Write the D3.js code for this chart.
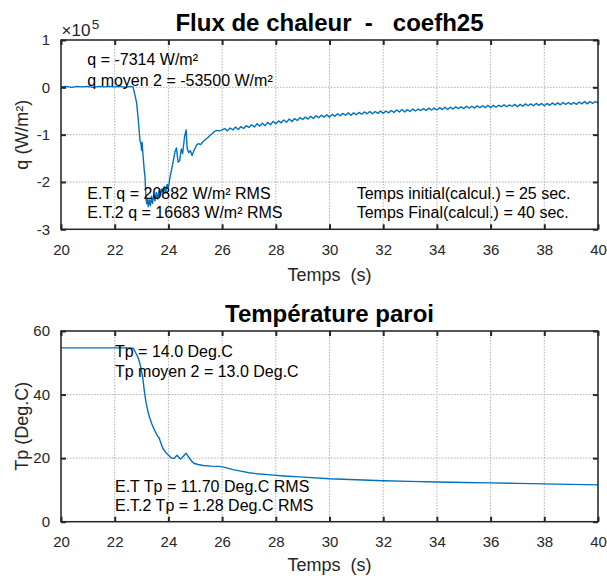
<!DOCTYPE html>
<html>
<head>
<meta charset="utf-8">
<script src="https://cdn.jsdelivr.net/npm/d3@7"></script>
<style>
  html, body { margin: 0; padding: 0; background: #fff; }
  svg { display: block; }
  text { font-family: "Liberation Sans", Arial, Helvetica, sans-serif; }
</style>
</head>
<body>
<svg id="chart" width="607" height="576"></svg>
<script>
// ---------------- DATA ----------------
const xTicks = [20, 22, 24, 26, 28, 30, 32, 34, 36, 38, 40];
const qTicks = [1, 0, -1, -2, -3];          // in units of 1e5 W/m²
const tpTicks = [0, 20, 40, 60];

// Heat flux q (x 1e5 W/m²) vs time (s)
const qTime = [
  20.0, 20.2, 20.4, 20.6, 20.8, 21.0, 21.2, 21.4, 21.6, 21.8, 22.0, 22.2, 22.4, 22.6, 22.68,
  22.75, 22.82, 22.88, 22.94, 22.98, 23.0, 23.02, 23.05, 23.1, 23.13, 23.16, 23.19, 23.22, 23.25, 23.29,
  23.33, 23.37, 23.41, 23.45, 23.5, 23.55, 23.6, 23.65, 23.7, 23.75, 23.8, 23.85, 23.9, 23.95, 24.0,
  24.06, 24.15, 24.25, 24.30, 24.36, 24.42, 24.48, 24.53, 24.60, 24.66, 24.70, 24.76, 24.82, 24.88, 24.95,
  25.05, 25.12, 25.2, 25.3, 25.43, 25.55, 25.65, 25.72, 25.8, 25.9,
  26.0, 26.1, 26.2, 26.3, 26.4, 26.5, 26.6, 26.7, 26.8, 26.9,
  27.0, 27.1, 27.2, 27.3, 27.4, 27.5, 27.6, 27.7, 27.8, 27.9,
  28.0, 28.1, 28.2, 28.3, 28.4, 28.5, 28.6, 28.7, 28.8, 28.9,
  29.0, 29.1, 29.2, 29.3, 29.4, 29.5, 29.6, 29.7, 29.8, 29.9,
  30.0, 30.1, 30.2, 30.3, 30.4, 30.5, 30.6, 30.7, 30.8, 30.9,
  31.0, 31.1, 31.2, 31.3, 31.4, 31.5, 31.6, 31.7, 31.8, 31.9,
  32.0, 32.1, 32.2, 32.3, 32.4, 32.5, 32.6, 32.7, 32.8, 32.9,
  33.0, 33.1, 33.2, 33.3, 33.4, 33.5, 33.6, 33.7, 33.8, 33.9,
  34.0, 34.1, 34.2, 34.3, 34.4, 34.5, 34.6, 34.7, 34.8, 34.9,
  35.0, 35.1, 35.2, 35.3, 35.4, 35.5, 35.6, 35.7, 35.8, 35.9,
  36.0, 36.1, 36.2, 36.3, 36.4, 36.5, 36.6, 36.7, 36.8, 36.9,
  37.0, 37.1, 37.2, 37.3, 37.4, 37.5, 37.6, 37.7, 37.8, 37.9,
  38.0, 38.1, 38.2, 38.3, 38.4, 38.5, 38.6, 38.7, 38.8, 38.9,
  39.0, 39.1, 39.2, 39.3, 39.4, 39.5, 39.6, 39.7, 39.8, 39.9,
  40.0
];
const qValue = [
  0.01, 0.02, 0.00, 0.02, 0.01, 0.02, 0.00, 0.02, 0.01, 0.02, 0.01, 0.02, 0.00, 0.02, 0.01,
  -0.15, -0.34, -0.70, -1.12, -1.20, -1.33, -1.16, -1.40, -1.75, -1.90, -2.30, -2.46, -2.35, -2.52, -2.38,
  -2.50, -2.30, -2.45, -2.28, -2.40, -2.22, -2.36, -2.18, -2.30, -2.15, -2.25, -2.10, -2.22, -2.05, -2.12,
  -1.90, -1.65, -1.35, -1.28, -1.58, -1.55, -1.30, -1.40, -1.05, -0.90, -1.30, -1.38, -1.34, -1.44, -1.34,
  -1.22, -1.19, -1.21, -1.14, -1.08, -1.02, -0.97, -0.93, -0.91, -0.92,
  -0.90, -0.87, -0.92, -0.86, -0.90, -0.84, -0.89, -0.83, -0.87, -0.81,
  -0.85, -0.79, -0.84, -0.77, -0.82, -0.76, -0.81, -0.74, -0.79, -0.72,
  -0.77, -0.71, -0.75, -0.69, -0.74, -0.67, -0.72, -0.66, -0.70, -0.64,
  -0.68, -0.63, -0.67, -0.61, -0.66, -0.60, -0.64, -0.59, -0.63, -0.58,
  -0.63, -0.57, -0.61, -0.56, -0.60, -0.55, -0.59, -0.54, -0.59, -0.54,
  -0.58, -0.53, -0.57, -0.52, -0.56, -0.51, -0.56, -0.51, -0.55, -0.50,
  -0.55, -0.50, -0.54, -0.49, -0.53, -0.48, -0.52, -0.47, -0.52, -0.47,
  -0.51, -0.46, -0.50, -0.46, -0.49, -0.45, -0.49, -0.44, -0.48, -0.44,
  -0.48, -0.43, -0.47, -0.42, -0.47, -0.42, -0.46, -0.41, -0.45, -0.41,
  -0.45, -0.40, -0.44, -0.40, -0.44, -0.39, -0.43, -0.39, -0.43, -0.38,
  -0.43, -0.38, -0.42, -0.38, -0.41, -0.37, -0.41, -0.37, -0.40, -0.36,
  -0.41, -0.36, -0.40, -0.35, -0.39, -0.35, -0.39, -0.34, -0.38, -0.34,
  -0.39, -0.34, -0.38, -0.33, -0.37, -0.33, -0.37, -0.32, -0.36, -0.32,
  -0.36, -0.32, -0.36, -0.31, -0.35, -0.30, -0.35, -0.30, -0.34, -0.30,
  -0.33
];

// Wall temperature Tp (Deg.C) vs time (s)
const tpTime = [
  20.0, 21.0, 22.0, 22.6, 22.7, 22.79, 22.86, 22.92, 22.98, 23.04, 23.10, 23.17, 23.23, 23.29, 23.38,
  23.48, 23.6, 23.65, 23.7, 23.79, 23.9, 24.0, 24.12, 24.2, 24.25, 24.32, 24.38, 24.45, 24.52, 24.6,
  24.66, 24.72, 24.8, 24.88, 24.95, 25.1, 25.3, 25.6, 25.9, 26.1, 26.4, 26.7, 27.0, 27.3, 27.7,
  28.3, 28.9, 30, 31, 32, 33, 34, 35, 36, 37, 38, 39, 40
];
const tpValue = [
  54.7, 54.7, 54.7, 54.7, 54.5, 53.0, 51.8, 50.3, 48.2, 45.6, 41.4, 37.3, 35.0, 33.0, 30.8,
  28.9, 26.9, 26.5, 25.2, 23.1, 21.8, 21.0, 20.0, 19.9, 20.3, 20.9, 20.3, 19.7, 20.2, 21.0,
  21.5, 20.8, 19.8, 18.9, 18.4, 18.0, 17.7, 17.5, 17.4, 17.1, 16.4, 15.9, 15.4, 15.1, 14.8,
  14.4, 14.1, 13.5, 13.2, 12.9, 12.7, 12.5, 12.35, 12.2, 12.05, 11.9, 11.75, 11.6
];

const qNotesTop = ["q = -7314 W/m²", "q moyen 2 = -53500 W/m²"];
const qNotesBottom = ["E.T q = 20882 W/m² RMS", "E.T.2 q = 16683 W/m² RMS"];
const qNotesRight = ["Temps initial(calcul.) = 25 sec.", "Temps Final(calcul.) = 40 sec."];
const tpNotesTop = ["Tp = 14.0 Deg.C", "Tp moyen 2 = 13.0 Deg.C"];
const tpNotesBottom = ["E.T Tp = 11.70 Deg.C RMS", "E.T.2 Tp = 1.28 Deg.C RMS"];
const qExponent = ["×10", "5"];

// ---------------- DRAWING ----------------
const svg = d3.select("#chart");
const LINE = "#0072BD";
const AX = "#262626";

function panel(cfg) {
  const g = svg.append("g");
  const x = d3.scaleLinear().domain([20, 40]).range([cfg.left, cfg.right]);
  const y = d3.scaleLinear().domain(cfg.ydomain).range([cfg.bottom, cfg.top]);

  // grid
  g.append("g").selectAll("line").data(xTicks).join("line")
    .attr("x1", d => x(d)).attr("x2", d => x(d))
    .attr("y1", cfg.top).attr("y2", cfg.bottom)
    .attr("stroke", "#b0b0b0").attr("stroke-width", 1).attr("stroke-dasharray", "1.5,1.5");
  g.append("g").selectAll("line").data(cfg.yticks).join("line")
    .attr("y1", d => y(d)).attr("y2", d => y(d))
    .attr("x1", cfg.left).attr("x2", cfg.right)
    .attr("stroke", "#b0b0b0").attr("stroke-width", 1).attr("stroke-dasharray", "1.5,1.5");

  // data line
  const pts = cfg.t.map((t, i) => [t, cfg.v[i]]);
  g.append("path").datum(pts)
    .attr("fill", "none").attr("stroke", LINE).attr("stroke-width", 1.4)
    .attr("stroke-linejoin", "round")
    .attr("d", d3.line().x(d => x(d[0])).y(d => y(d[1])));

  // axes
  const styleAxis = sel => {
    sel.select(".domain").remove();
    sel.selectAll(".tick line").attr("stroke", AX).attr("stroke-width", 2);
    sel.selectAll(".tick text").attr("fill", AX).attr("font-size", 15)
      .attr("font-family", "'Liberation Sans', Arial, sans-serif");
  };
  g.append("g").attr("transform", `translate(0,${cfg.bottom})`)
    .call(d3.axisBottom(x).tickValues(xTicks).tickSize(-5).tickPadding(15).tickFormat(d => String(d)))
    .call(styleAxis);
  g.append("g").attr("transform", `translate(0,${cfg.top})`)
    .call(d3.axisTop(x).tickValues(xTicks).tickSize(-5).tickFormat(""))
    .call(styleAxis);
  g.append("g").attr("transform", `translate(${cfg.left},0)`)
    .call(d3.axisLeft(y).tickValues(cfg.yticks).tickSize(-5).tickPadding(11).tickFormat(d => String(d)))
    .call(styleAxis);
  g.append("g").attr("transform", `translate(${cfg.right},0)`)
    .call(d3.axisRight(y).tickValues(cfg.yticks).tickSize(-5).tickFormat(""))
    .call(styleAxis);

  // box
  g.append("rect").attr("x", cfg.left).attr("y", cfg.top)
    .attr("width", cfg.right - cfg.left).attr("height", cfg.bottom - cfg.top)
    .attr("fill", "none").attr("stroke", AX).attr("stroke-width", 1.5);

  const cx = (cfg.left + cfg.right) / 2;
  // title
  g.append("text").attr("x", cx).attr("y", cfg.top - 9)
    .attr("text-anchor", "middle").attr("font-size", 24).attr("font-weight", "bold")
    .style("white-space", "pre").attr("fill", "#000").text(cfg.title);
  // x label
  g.append("text").attr("x", cx).attr("y", cfg.bottom + cfg.xlabelOffset)
    .attr("text-anchor", "middle").attr("font-size", 18).style("white-space", "pre")
    .attr("fill", AX).text("Temps  (s)");
  // y label
  g.append("text").attr("transform", `translate(28,${(cfg.top + cfg.bottom) / 2}) rotate(-90)`)
    .attr("text-anchor", "middle").attr("font-size", 18).attr("fill", AX).text(cfg.ylabel);

  // annotations
  cfg.notes.forEach(n => {
    g.append("g").selectAll("text").data(n.lines).join("text")
      .attr("x", n.x).attr("y", (d, i) => n.y + i * n.dy)
      .attr("font-size", 16).attr("fill", "#000").text(d => d);
  });
  return g;
}

const fluxPanel = panel({
  left: 61, right: 598, top: 40, bottom: 229.3, xlabelOffset: 52,
  ydomain: [-3, 1], yticks: qTicks, t: qTime, v: qValue,
  title: "Flux de chaleur  -   coefh25", ylabel: "q (W/m²)",
  notes: [
    { x: 87.3, y: 65.2, dy: 20.5, lines: qNotesTop },
    { x: 87.3, y: 199.3, dy: 19, lines: qNotesBottom },
    { x: 356.7, y: 199.3, dy: 19, lines: qNotesRight }
  ]
});
// exponent label ×10^5, two separate text elements
const exBase = fluxPanel.append("text").attr("x", 61.5).attr("y", 36)
  .style("font-size", "17px").attr("fill", AX).text(qExponent[0]);
const baseW = exBase.node().getComputedTextLength();
fluxPanel.append("text").attr("x", 61.5 + baseW + 1.5).attr("y", 28.5)
  .style("font-size", "13.5px").attr("fill", AX).text(qExponent[1]);

const tempPanel = panel({
  left: 61, right: 598, top: 331, bottom: 521.7, xlabelOffset: 49.5,
  ydomain: [0, 60], yticks: tpTicks, t: tpTime, v: tpValue,
  title: "Température paroi", ylabel: "Tp (Deg.C)",
  notes: [
    { x: 115, y: 357.3, dy: 19.4, lines: tpNotesTop },
    { x: 115, y: 491.7, dy: 19, lines: tpNotesBottom }
  ]
});
</script>
</body>
</html>
